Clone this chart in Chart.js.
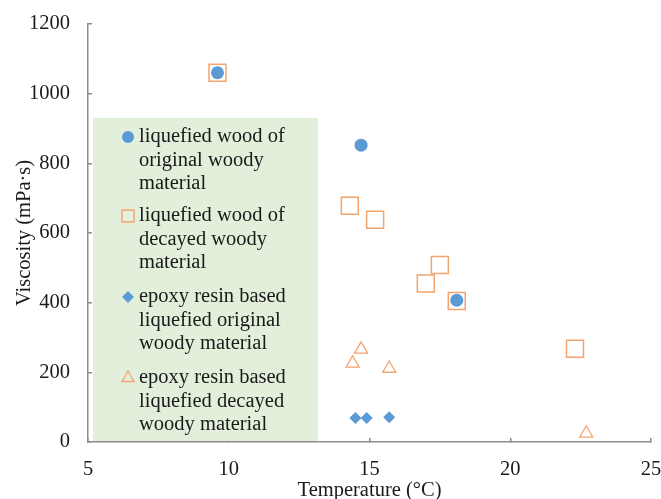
<!DOCTYPE html>
<html>
<head>
<meta charset="utf-8">
<script src="https://cdn.jsdelivr.net/npm/chart.js@4/dist/chart.umd.min.js"></script>
<style>
  html, body { margin: 0; padding: 0; background: #fff; }
  #wrap { width: 661px; height: 499px; }
</style>
</head>
<body>
<div id="wrap"><canvas id="chart"></canvas></div>
<script>
// values
const woodOrigX = [9.6, 14.7, 18.1];
const woodOrigY = [1060, 852, 407];
const woodDecayX = [9.6, 14.3, 15.2, 17.5, 17.0, 18.1, 22.3];
const woodDecayY = [1060, 678, 638, 508, 455, 405, 268];
const epoxyOrigX = [14.5, 14.9, 15.7];
const epoxyOrigY = [69, 69, 71];
const epoxyDecayX = [14.7, 14.4, 15.7, 22.7];
const epoxyDecayY = [266, 226, 211, 25];

const legendLabels = [
  ['liquefied wood of', 'original woody', 'material'],
  ['liquefied wood of', 'decayed woody', 'material'],
  ['epoxy resin based', 'liquefied original', 'woody material'],
  ['epoxy resin based', 'liquefied decayed', 'woody material']
];

const blue = '#5b9bd5';
const orange = '#f3a46f';
const serif = "'Liberation Serif', 'DejaVu Serif', serif";
const textColor = '#1a1a1a';

function pts(xs, ys) {
  return xs.map((x, i) => ({ x: x, y: ys[i] }));
}

// legend drawn as a shaded box inside the plot, like the original
const boxLegend = {
  id: 'boxLegend',
  beforeDatasetsDraw(chart) {
    const ctx = chart.ctx;
    const area = chart.chartArea;
    ctx.save();
    ctx.fillStyle = '#e2efda';
    ctx.fillRect(area.left + 5, 118, 225, area.bottom - 118 - 1);

    ctx.textBaseline = 'middle';
    const lineH = 23.3;
    const starts = [137, 216, 297, 378];
    chart.data.datasets.forEach((ds, i) => {
      const y0 = starts[i];
      ctx.strokeStyle = ds.borderColor;
      ctx.fillStyle = ds.backgroundColor;
      ctx.lineWidth = ds.borderWidth;
      Chart.helpers.drawPoint(ctx, {
        pointStyle: ds.pointStyle,
        radius: ds.legendRadius,
        borderWidth: ds.borderWidth,
        rotation: 0
      }, 128, y0);
      ctx.font = '20.5px ' + serif;
      ctx.fillStyle = textColor;
      legendLabels[i].forEach((line, j) => {
        ctx.fillText(line, 139, y0 + j * lineH);
      });
    });
    ctx.restore();
  }
};

const chart = new Chart(document.getElementById('chart'), {
  type: 'scatter',
  data: {
    datasets: [
      {
        label: 'liquefied wood of original woody material',
        data: pts(woodOrigX, woodOrigY),
        pointStyle: 'circle',
        pointRadius: 6.5,
        legendRadius: 6,
        backgroundColor: blue,
        borderColor: blue,
        borderWidth: 0,
        order: 0
      },
      {
        label: 'liquefied wood of decayed woody material',
        data: pts(woodDecayX, woodDecayY),
        pointStyle: 'rect',
        pointRadius: 12,
        legendRadius: 8.5,
        backgroundColor: 'rgba(0,0,0,0)',
        borderColor: orange,
        borderWidth: 1.5,
        order: 1
      },
      {
        label: 'epoxy resin based liquefied original woody material',
        data: pts(epoxyOrigX, epoxyOrigY),
        pointStyle: 'rectRot',
        pointRadius: 6,
        legendRadius: 6,
        backgroundColor: blue,
        borderColor: blue,
        borderWidth: 0,
        order: 2
      },
      {
        label: 'epoxy resin based liquefied decayed woody material',
        data: pts(epoxyDecayX, epoxyDecayY),
        pointStyle: 'triangle',
        pointRadius: 7.5,
        legendRadius: 7,
        backgroundColor: 'rgba(0,0,0,0)',
        borderColor: orange,
        borderWidth: 1.3,
        order: 3
      }
    ]
  },
  options: {
    responsive: true,
    maintainAspectRatio: false,
    animation: false,
    layout: { autoPadding: false, padding: { top: 24, right: 10, left: 0, bottom: 0 } },
    plugins: {
      legend: { display: false },
      tooltip: { enabled: false }
    },
    scales: {
      x: {
        type: 'linear',
        min: 5,
        max: 25,
        ticks: { stepSize: 5, color: textColor, font: { family: serif, size: 20.5 }, padding: 19 },
        grid: { drawOnChartArea: false, tickLength: -4, color: '#8c8c8c', lineWidth: 1.5 },
        border: { color: '#8c8c8c', width: 1.5 },
        title: { display: true, text: 'Temperature (°C)', color: textColor, font: { family: serif, size: 20.5 }, padding: { top: 3, bottom: -4 } },
        afterFit(scale) {
          scale.height = 57;
          scale.paddingLeft = 0;
          scale.paddingRight = 0;
        }
      },
      y: {
        min: 0,
        max: 1200,
        ticks: {
          stepSize: 200,
          color: textColor,
          font: { family: serif, size: 20.5 },
          padding: 22,
          callback: (v) => String(v)
        },
        grid: { drawOnChartArea: false, tickLength: -4, color: '#8c8c8c', lineWidth: 1.5 },
        border: { color: '#8c8c8c', width: 1.5 },
        title: { display: true, text: 'Viscosity (mPa·s)', color: textColor, font: { family: serif, size: 20.5 }, padding: { top: 12, bottom: 0 } },
        afterFit(scale) {
          scale.width = 88;
          scale.paddingTop = 0;
          scale.paddingBottom = 0;
        }
      }
    }
  },
  plugins: [boxLegend]
});
</script>
</body>
</html>
